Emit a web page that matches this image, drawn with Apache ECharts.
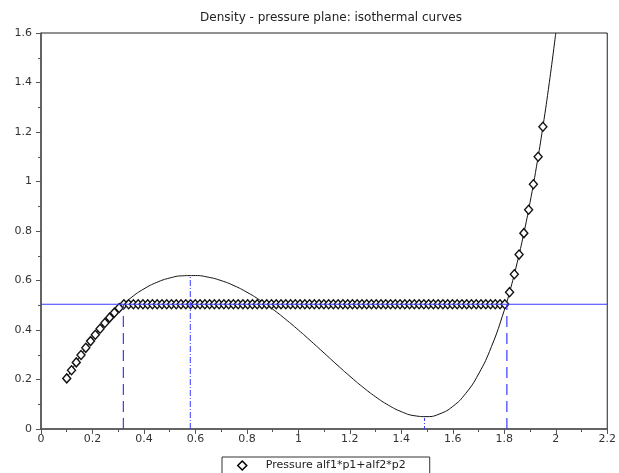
<!DOCTYPE html>
<html>
<head>
<meta charset="utf-8">
<script src="https://cdn.jsdelivr.net/npm/echarts@6/dist/echarts.min.js"></script>
<style>
  html, body { margin: 0; padding: 0; background: #fff; }
  #chart { width: 619px; height: 473px; }
</style>
</head>
<body>
<div id="chart"></div>
<script>
// Isotherm p(rho) (van der Waals type), sampled for the smooth black curve
const curveRho = [0.10, 0.15, 0.20, 0.25, 0.30, 0.35, 0.40, 0.45, 0.50, 0.55,
  0.60, 0.65, 0.70, 0.75, 0.80, 0.85, 0.90, 0.95, 1.00, 1.05,
  1.10, 1.15, 1.20, 1.25, 1.30, 1.35, 1.40, 1.45, 1.50, 1.55,
  1.60, 1.65, 1.70, 1.75, 1.80, 1.825, 1.85, 1.875, 1.90, 1.925,
  1.95, 1.975, 2.00];
const curvePressure = [0.2045, 0.2904, 0.3657, 0.4307, 0.4856, 0.5306, 0.5662, 0.5925, 0.6100, 0.6190,
  0.6200, 0.6134, 0.5996, 0.5792, 0.5527, 0.5209, 0.4843, 0.4437, 0.4000, 0.3540,
  0.3068, 0.2595, 0.2133, 0.1696, 0.1300, 0.0961, 0.0700, 0.0538, 0.0500, 0.0615,
  0.0914, 0.1436, 0.2223, 0.3325, 0.4800, 0.5698, 0.6716, 0.7865, 0.9155, 1.0599,
  1.2211, 1.4006, 1.6000];

// Mixture pressure alf1*p1 + alf2*p2 on the density grid (diamonds)
const mixRho = [0.1, 0.1185, 0.137, 0.1555, 0.174, 0.1925, 0.211, 0.2295, 0.248, 0.2665,
  0.285, 0.3035, 0.322, 0.3405, 0.359, 0.3775, 0.396, 0.4145, 0.433, 0.4515,
  0.47, 0.4885, 0.507, 0.5255, 0.544, 0.5625, 0.581, 0.5995, 0.618, 0.6365,
  0.655, 0.6735, 0.692, 0.7105, 0.729, 0.7475, 0.766, 0.7845, 0.803, 0.8215,
  0.84, 0.8585, 0.877, 0.8955, 0.914, 0.9325, 0.951, 0.9695, 0.988, 1.0065,
  1.025, 1.0435, 1.062, 1.0805, 1.099, 1.1175, 1.136, 1.1545, 1.173, 1.1915,
  1.21, 1.2285, 1.247, 1.2655, 1.284, 1.3025, 1.321, 1.3395, 1.358, 1.3765,
  1.395, 1.4135, 1.432, 1.4505, 1.469, 1.4875, 1.506, 1.5245, 1.543, 1.5615,
  1.58, 1.5985, 1.617, 1.6355, 1.654, 1.6725, 1.691, 1.7095, 1.728, 1.7465,
  1.765, 1.7835, 1.802, 1.8205, 1.839, 1.8575, 1.876, 1.8945, 1.913, 1.9315,
  1.95];
const mixPressure = [0.2045, 0.2375, 0.2691, 0.2992, 0.3279, 0.3551, 0.3809, 0.4053, 0.4283, 0.4499,
  0.4701, 0.4890, 0.504, 0.504, 0.504, 0.504, 0.504, 0.504, 0.504, 0.504,
  0.504, 0.504, 0.504, 0.504, 0.504, 0.504, 0.504, 0.504, 0.504, 0.504,
  0.504, 0.504, 0.504, 0.504, 0.504, 0.504, 0.504, 0.504, 0.504, 0.504,
  0.504, 0.504, 0.504, 0.504, 0.504, 0.504, 0.504, 0.504, 0.504, 0.504,
  0.504, 0.504, 0.504, 0.504, 0.504, 0.504, 0.504, 0.504, 0.504, 0.504,
  0.504, 0.504, 0.504, 0.504, 0.504, 0.504, 0.504, 0.504, 0.504, 0.504,
  0.504, 0.504, 0.504, 0.504, 0.504, 0.504, 0.504, 0.504, 0.504, 0.504,
  0.504, 0.504, 0.504, 0.504, 0.504, 0.504, 0.504, 0.504, 0.504, 0.504,
  0.504, 0.504, 0.504, 0.5529, 0.6253, 0.7047, 0.7914, 0.8858, 0.9886, 1.1001,
  1.2211];

// Saturation pressure and the special densities
const satPressure = 0.504;
const rhoVapor = 0.32;
const rhoLiquid = 1.81;
const rhoMax = 0.58, pMax = 0.62;
const rhoMin = 1.49, pMin = 0.05;

const xTicks = { min: 0, max: 2.2, step: 0.2 };
const yTicks = { min: 0, max: 1.6, step: 0.2 };

const pair = (xs, ys) => xs.map((x, i) => [x, ys[i]]);
const blue = '#3a3aff';
const font = 'DejaVu Sans, Liberation Sans, sans-serif';

const chart = echarts.init(document.getElementById('chart'), null, { renderer: 'canvas' });

const axisCommon = {
  splitLine: { show: false },
  axisLine: { show: true, onZero: false, lineStyle: { color: '#555', width: 1.5 } },
  axisTick: { show: true, inside: false, length: 5, lineStyle: { color: '#555', width: 1 } },
  minorTick: { show: true, splitNumber: 2, length: 3, lineStyle: { color: '#555', width: 1 } },
  axisLabel: { color: '#333', fontFamily: font, fontSize: 11 }
};

chart.setOption({
  animation: false,
  backgroundColor: '#fff',
  title: {
    text: 'Density - pressure plane: isothermal curves',
    left: 326, top: 7, textAlign: 'center',
    textStyle: { fontFamily: font, fontSize: 12, fontWeight: 'normal', color: '#222' }
  },
  grid: {
    left: 41, right: 9, top: 33, bottom: 44,
    show: true, borderColor: '#222', borderWidth: 1, backgroundColor: 'transparent'
  },
  legend: {
    left: 222, top: 457,
    icon: 'diamond',
    itemWidth: 9, itemHeight: 9,
    padding: [3, 24, 6, 15],
    borderColor: '#333', borderWidth: 1,
    backgroundColor: '#fff',
    itemStyle: { color: '#fff', borderColor: '#000', borderWidth: 1.5 },
    textStyle: { fontFamily: font, fontSize: 11, color: '#222', padding: [0, 0, 0, 14] },
    data: ['Pressure alf1*p1+alf2*p2']
  },
  xAxis: Object.assign({
    type: 'value', min: xTicks.min, max: xTicks.max, interval: xTicks.step
  }, axisCommon, { axisLabel: Object.assign({}, axisCommon.axisLabel, { margin: 5 }) }),
  yAxis: Object.assign({
    type: 'value', min: yTicks.min, max: yTicks.max, interval: yTicks.step
  }, axisCommon, { axisLabel: Object.assign({}, axisCommon.axisLabel, { margin: 9 }) }),
  series: [
    {
      name: 'isotherm',
      type: 'line',
      data: pair(curveRho, curvePressure),
      showSymbol: false,
      smooth: 0.5,
      clip: true,
      lineStyle: { color: '#111', width: 1 },
      z: 2
    },
    {
      name: 'Pressure alf1*p1+alf2*p2',
      type: 'scatter',
      data: pair(mixRho, mixPressure),
      symbol: 'diamond',
      symbolSize: [8, 9],
      itemStyle: { color: '#fff', borderColor: '#111', borderWidth: 1.4, opacity: 1 },
      z: 3
    },
    {
      name: 'saturation',
      type: 'line',
      data: [[xTicks.min, satPressure], [xTicks.max, satPressure]],
      showSymbol: false,
      lineStyle: { color: blue, width: 1.2 },
      z: 4
    },
    {
      name: 'vapor',
      type: 'line',
      data: [[rhoVapor, 0], [rhoVapor, satPressure]],
      showSymbol: false,
      lineStyle: { color: blue, width: 1.2, type: [11, 6] },
      z: 4
    },
    {
      name: 'liquid',
      type: 'line',
      data: [[rhoLiquid, 0], [rhoLiquid, satPressure]],
      showSymbol: false,
      lineStyle: { color: blue, width: 1.2, type: [11, 6] },
      z: 4
    },
    {
      name: 'max',
      type: 'line',
      data: [[rhoMax, 0], [rhoMax, pMax]],
      showSymbol: false,
      lineStyle: { color: blue, width: 1, type: [6, 2, 1, 2] },
      z: 4
    },
    {
      name: 'min',
      type: 'line',
      data: [[rhoMin, 0], [rhoMin, pMin]],
      showSymbol: false,
      lineStyle: { color: blue, width: 1, type: [3, 2, 1, 2] },
      z: 4
    }
  ]
});
</script>
</body>
</html>
